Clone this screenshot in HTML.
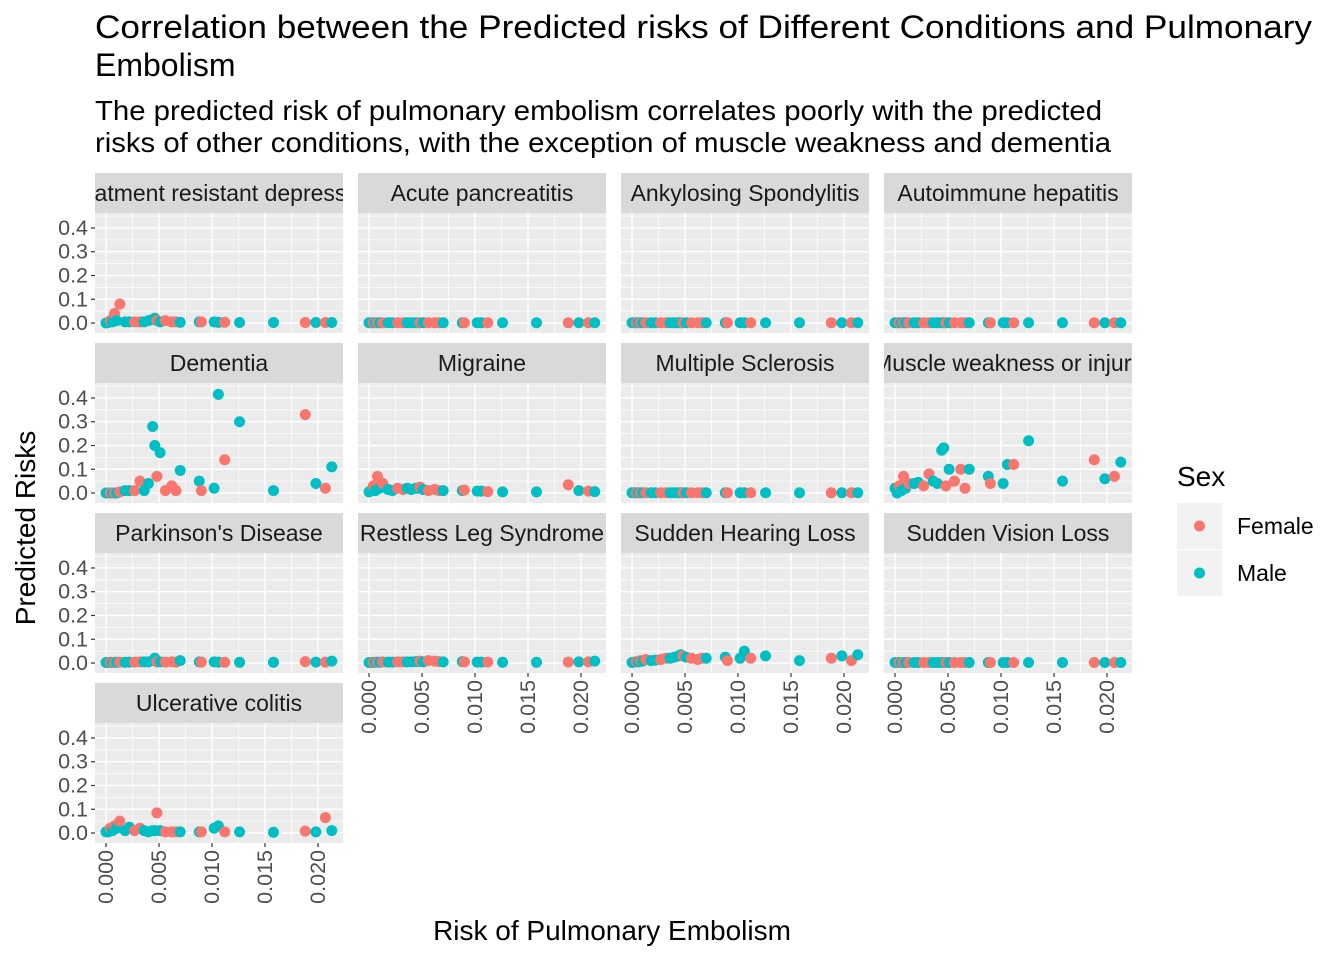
<!DOCTYPE html>
<html><head><meta charset="utf-8"><style>
html,body{margin:0;padding:0;background:#fff;}
svg{display:block;font-family:"Liberation Sans",Arial,sans-serif;}
</style></head><body>
<svg id="chart" width="1344" height="960" viewBox="0 0 1344 960">
<text x="95" y="38" font-size="32" textLength="1217" lengthAdjust="spacingAndGlyphs" fill="#000">Correlation between the Predicted risks of Different Conditions and Pulmonary</text>
<text x="95" y="76" font-size="32" fill="#000">Embolism</text>
<text x="95" y="120" font-size="28" textLength="1007" lengthAdjust="spacingAndGlyphs" fill="#000">The predicted risk of pulmonary embolism correlates poorly with the predicted</text>
<text x="95" y="152" font-size="28" textLength="1016" lengthAdjust="spacingAndGlyphs" fill="#000">risks of other conditions, with the exception of muscle weakness and dementia</text>
<text x="612" y="940" font-size="28" text-anchor="middle" fill="#000">Risk of Pulmonary Embolism</text>
<text transform="translate(35,528) rotate(-90)" font-size="28" text-anchor="middle" fill="#000">Predicted Risks</text>
<g>
<text x="1177" y="486" font-size="28" fill="#000">Sex</text>
<rect x="1177" y="503" width="45" height="46" fill="#f2f2f2"/>
<circle cx="1199.5" cy="526" r="5.5" fill="#F8766D"/>
<text x="1237" y="534" font-size="23">Female</text>
<rect x="1177" y="550" width="45" height="46" fill="#f2f2f2"/>
<circle cx="1199.5" cy="573" r="5.5" fill="#00BFC4"/>
<text x="1237" y="581" font-size="23">Male</text>
</g>
<g id="panels"></g>
</svg>
<script>
const panelNames = ["Treatment resistant depression","Acute pancreatitis","Ankylosing Spondylitis","Autoimmune hepatitis","Dementia","Migraine","Multiple Sclerosis","Muscle weakness or injury","Parkinson's Disease","Restless Leg Syndrome","Sudden Hearing Loss","Sudden Vision Loss","Ulcerative colitis"];
const peRisk = [0.0000,0.0002,0.0004,0.0006,0.0008,0.0010,0.0013,0.0018,0.0022,0.0027,0.0032,0.0036,0.0040,0.0044,0.0046,0.0048,0.0051,0.0056,0.0062,0.0066,0.0070,0.0088,0.0090,0.0102,0.0106,0.0112,0.0126,0.0158,0.0188,0.0198,0.0207,0.0213];
const sex = ["M","M","F","M","F","M","F","M","M","F","F","M","M","M","M","F","M","F","F","F","M","M","F","M","M","F","M","M","F","M","F","M"];
const yTRD = [0,0.002,0.01,0.005,0.04,0.01,0.08,0.005,0.005,0.005,0.005,0.005,0.01,0.015,0.02,0.01,0.005,0.01,0.005,0.005,0.003,0.005,0.005,0.005,0.003,0.003,0.002,0.002,0.002,0.002,0.002,0.002];
const yAP = new Array(32).fill(0.001);
const yAS = new Array(32).fill(0.001);
const yAH = new Array(32).fill(0.001);
const yDem = [0,0,0,0,0,0,0.005,0.01,0.01,0.01,0.05,0.01,0.04,0.28,0.2,0.07,0.17,0.01,0.03,0.01,0.095,0.05,0.01,0.02,0.415,0.14,0.3,0.01,0.33,0.04,0.02,0.11];
const yMig = [0.005,0.01,0.03,0.01,0.07,0.02,0.04,0.015,0.01,0.02,0.015,0.02,0.015,0.02,0.02,0.025,0.015,0.01,0.015,0.01,0.01,0.01,0.012,0.008,0.008,0.006,0.005,0.005,0.035,0.01,0.008,0.006];
const yMS = new Array(32).fill(0.001);
const yMW = [0.02,0,0.03,0.01,0.07,0.02,0.04,0.04,0.045,0.03,0.08,0.05,0.04,0.18,0.19,0.03,0.1,0.05,0.1,0.02,0.1,0.07,0.04,0.04,0.12,0.12,0.22,0.05,0.14,0.06,0.07,0.13];
const yPD = [0.002,0.002,0.003,0.002,0.003,0.003,0.004,0.003,0.004,0.004,0.005,0.005,0.005,0.01,0.02,0.005,0.005,0.004,0.005,0.004,0.01,0.005,0.004,0.005,0.004,0.003,0.003,0.003,0.006,0.004,0.004,0.008];
const yRLS = [0.002,0.002,0.003,0.003,0.004,0.003,0.005,0.004,0.004,0.005,0.005,0.005,0.005,0.006,0.006,0.008,0.005,0.01,0.008,0.006,0.005,0.006,0.005,0.004,0.004,0.004,0.003,0.003,0.004,0.005,0.005,0.008];
const ySHL = [0.002,0.004,0.006,0.005,0.01,0.008,0.015,0.01,0.012,0.015,0.02,0.02,0.025,0.03,0.035,0.03,0.025,0.02,0.015,0.02,0.02,0.025,0.01,0.02,0.05,0.02,0.03,0.01,0.02,0.03,0.01,0.035];
const ySVL = new Array(32).fill(0.002);
const yUC = [0.005,0.005,0.02,0.01,0.03,0.02,0.05,0.01,0.025,0.01,0.02,0.01,0.005,0.01,0.01,0.085,0.01,0.005,0.005,0.005,0.005,0.005,0.005,0.02,0.03,0.005,0.005,0.003,0.008,0.005,0.065,0.01];
const panelValues = [yTRD,yAP,yAS,yAH,yDem,yMig,yMS,yMW,yPD,yRLS,ySHL,ySVL,yUC];
const yTicks = [0,0.1,0.2,0.3,0.4];
const yTickLabels = ["0.0","0.1","0.2","0.3","0.4"];
const xTicks = [0,0.005,0.01,0.015,0.02];
const xTickLabels = ["0.000","0.005","0.010","0.015","0.020"];

const NS="http://www.w3.org/2000/svg";
const root=document.getElementById('panels');
const colX=[95,358,621,884], PW=248, rowTop=[173,343,513,683], SH=40, PH=120;
const xMin=-0.00104, xMax=0.02236, yMin=-0.042, yMax=0.463;
function mk(tag,attrs,parent){const e=document.createElementNS(NS,tag);for(const k in attrs)e.setAttribute(k,attrs[k]);(parent||root).appendChild(e);return e;}
const defs=mk('defs',{});
panelNames.forEach((name,i)=>{
  const r=Math.floor(i/4), c=i%4;
  const px=colX[c], sy=rowTop[r], py=sy+SH;
  const sx=v=>px+(v-xMin)/(xMax-xMin)*PW;
  const syv=v=>py+PH-(v-yMin)/(yMax-yMin)*PH;
  const g=mk('g',{});
  
  
  const cp=mk('clipPath',{id:'clip'+i},defs);
  mk('rect',{x:px,y:sy,width:PW,height:SH},cp);
  const strip=mk('rect',{x:px,y:sy,width:PW,height:SH,fill:'#d9d9d9'},g);
  
  
  const st=mk('text',{x:px+PW/2,y:sy+28,'font-size':23,'text-anchor':'middle',fill:'#1a1a1a','clip-path':'url(#clip'+i+')'},g);
  st.textContent=name;
  
  
  const bg=mk('rect',{x:px,y:py,width:PW,height:PH,fill:'#ebebeb'},g);
  
  
  for(let k=0;k<yTicks.length;k++){const v=yTicks[k]+0.05; if(v<yMax) mk('line',{x1:px,x2:px+PW,y1:syv(v),y2:syv(v),stroke:'#fff','stroke-width':0.7},g);}
  for(let k=0;k<xTicks.length;k++){const v=xTicks[k]+0.0025; if(v<xMax) mk('line',{x1:sx(v),x2:sx(v),y1:py,y2:py+PH,stroke:'#fff','stroke-width':0.7},g);}
  yTicks.forEach((v,k)=>{
    mk('line',{x1:px,x2:px+PW,y1:syv(v),y2:syv(v),stroke:'#fff','stroke-width':1.4},g);
    if(c===0){
      mk('line',{x1:px-4,x2:px,y1:syv(v),y2:syv(v),stroke:'#333','stroke-width':1.2},g);
      const t=mk('text',{x:px-7,y:syv(v)+7,'font-size':21.5,'text-anchor':'end',fill:'#4d4d4d'},g);
      t.textContent=yTickLabels[k];
      
      
    }
  });
  const bottom = (i===12) || (r===2 && c>0);
  xTicks.forEach((v,k)=>{
    mk('line',{x1:sx(v),x2:sx(v),y1:py,y2:py+PH,stroke:'#fff','stroke-width':1.4},g);
    if(bottom){
      mk('line',{x1:sx(v),x2:sx(v),y1:py+PH,y2:py+PH+4,stroke:'#333','stroke-width':1.2},g);
      const t=mk('text',{transform:`translate(${sx(v)+7},${py+PH+7}) rotate(-90)`,'font-size':21.5,'text-anchor':'end',fill:'#4d4d4d'},g);
      t.textContent=xTickLabels[k];
      
      
    }
  });
  const vals=panelValues[i];
  peRisk.forEach((xv,j)=>{
    const d=mk('circle',{cx:sx(xv),cy:syv(vals[j]),r:5.5,fill:sex[j]==='F'?'#F8766D':'#00BFC4'},g);
    
    
  });
});
</script>
</body></html>
